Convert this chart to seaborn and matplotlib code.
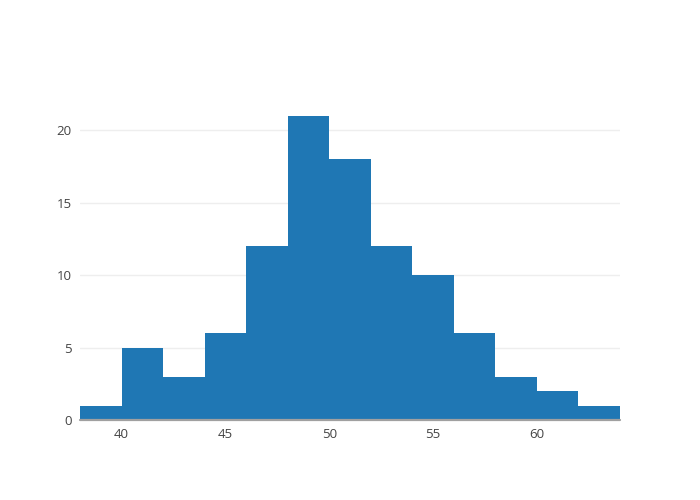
import numpy as np
import pandas as pd
import matplotlib
matplotlib.use("Agg")
import matplotlib.pyplot as plt
import seaborn as sns

# === DATA ===
bin_edges = [38, 40, 42, 44, 46, 48, 50, 52, 54, 56, 58, 60, 62, 64]
bin_starts = bin_edges[:-1]
counts = [1, 5, 3, 6, 12, 21, 18, 12, 10, 6, 3, 2, 1]
x_ticks = [40, 45, 50, 55, 60]
y_ticks = [0, 5, 10, 15, 20]

df = pd.DataFrame({"value": [b + 1 for b in bin_starts], "count": counts})

# === STYLE ===
sns.set_style("white")
plt.rcParams["font.family"] = ["Open Sans", "DejaVu Sans"]

fig = plt.figure(figsize=(7, 5), dpi=100)
ax = fig.add_axes([80 / 700, 80 / 500, 540 / 700, 320 / 500])

sns.histplot(data=df, x="value", weights="count", bins=bin_edges,
             color="#1f77b4", alpha=1, edgecolor="none", linewidth=0, ax=ax, zorder=2)

ax.set_xlim(38, 64)
ax.set_ylim(0, 22.07)
ax.set_xticks(x_ticks)
ax.set_yticks(y_ticks)
ax.set_xlabel("")
ax.set_ylabel("")

# light gridlines, no box
ax.yaxis.grid(True, color="#eeeeee", linewidth=1, zorder=0)
ax.xaxis.grid(False)
for side in ["top", "right", "left", "bottom"]:
    ax.spines[side].set_visible(False)
ax.axhline(0, color="#a0a0a0", linewidth=1.6, zorder=3, clip_on=False)

ax.tick_params(axis="both", length=0, labelsize=9.5, labelcolor="#444444")
ax.tick_params(axis="x", pad=6)
ax.tick_params(axis="y", pad=6)

fig.savefig("out.png", dpi=100)
